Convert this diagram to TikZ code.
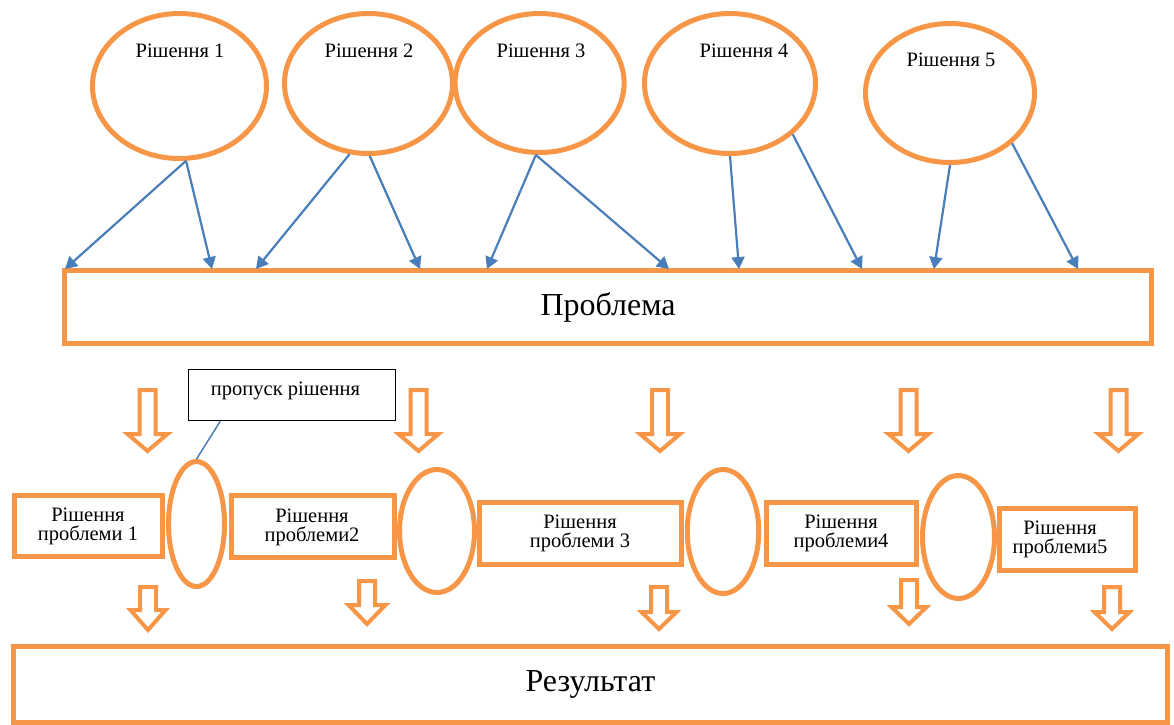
\documentclass[tikz,border=0pt]{standalone}
\usepackage{fontspec}
\setmainfont{Liberation Serif}
\usetikzlibrary{arrows.meta,shapes.geometric,calc}
\definecolor{org}{HTML}{F79646}
\definecolor{blu}{HTML}{4A7EBB}
\newcommand\hollowarrow[6]{\draw[blockarrow] ({#1-#5},#2) -- ({#1+#5},#2) -- ({#1+#5},#3) -- ({#1+#6},#3) -- (#1,#4) -- ({#1-#6},#3) -- ({#1-#5},#3) -- cycle;}
\begin{document}
\begin{tikzpicture}[x=1pt,y=-1pt,
 solution/.style={ellipse, draw=org, line width=5pt, inner sep=0pt},
 frame/.style={rectangle, draw=org, line width=5pt, inner sep=0pt},
 gap/.style={ellipse, draw=org, line width=5pt, fill=white, inner sep=0pt},
 link/.style={draw=blu, line width=2.2pt, -{Triangle[length=12pt,width=13pt]}},
 blockarrow/.style={draw=org, line width=4pt, fill=white},
 small/.style={font=\fontsize{20.5}{19}\selectfont, inner sep=0pt, text=black},
 boxtext/.style={small, align=center},
 large/.style={font=\fontsize{32}{36}\selectfont},
 note/.style={draw=black, line width=1.2pt, inner sep=0pt}]
\useasboundingbox (0,0) rectangle (1174,724);

% top solution ellipses
\node[solution, minimum width=174pt, minimum height=145pt] (e1) at (179.5,86) {};
\node[solution, minimum width=168pt, minimum height=140pt] (e2) at (368.5,83.5) {};
\node[solution, minimum width=169pt, minimum height=139pt] (e3) at (539.6,83) {};
\node[solution, minimum width=171pt, minimum height=140pt] (e4) at (730,83.5) {};
\node[solution, minimum width=169pt, minimum height=139pt] (e5) at (950,93) {};
\node[small, anchor=base] (l1) at (180,57) {Рішення 1};
\node[small, anchor=base] (l2) at (369,57) {Рішення 2};
\node[small, anchor=base] (l3) at (541,57) {Рішення 3};
\node[small, anchor=base] (l4) at (744,57) {Рішення 4};
\node[small, anchor=base] (l5) at (951,66) {Рішення 5};

% problem
\node[frame, large, minimum width=1087.5pt, minimum height=73pt] (prob) at (608,307) {Проблема};

\coordinate (a1) at (65,269);
\coordinate (a2) at (212,269);
\coordinate (a3) at (256,269);
\coordinate (a4) at (420,269);
\coordinate (a5) at (487,269);
\coordinate (a6) at (669,269);
\coordinate (a7) at (739,269);
\coordinate (a8) at (862,269);
\coordinate (a9) at (934,269);
\coordinate (a10) at (1078,269);

\draw[link] (e1.-85) -- (a1);
\draw[link] (e1.-85) -- (a2);
\draw[link] (e2.-105) -- (a3);
\draw[link] (e2.-89) -- (a4);
\draw[link] (e3.-93) -- (a5);
\draw[link] (e3.-93) -- (a6);
\draw[link] (e4.-90) -- (a7);
\draw[link] (e4.-39) -- (a8);
\draw[link] (e5.-90) -- (a9);
\draw[link] (e5.-39) -- (a10);

% upper block arrows
\hollowarrow{147.5}{390}{434}{451}{8}{20}
\hollowarrow{418.5}{390}{434}{451}{8}{20}
\hollowarrow{660}{390}{434}{451}{8}{20}
\hollowarrow{908.5}{390}{434}{451}{8}{20}
\hollowarrow{1118.5}{390}{434}{451}{8}{20}

% solution boxes
\node[frame, minimum width=148pt, minimum height=61pt] (b1) at (88.5,526) {};
\node[frame, minimum width=163pt, minimum height=62pt] (b2) at (313,526.5) {};
\node[frame, minimum width=202pt, minimum height=62pt] (b3) at (580.5,533.5) {};
\node[frame, minimum width=150pt, minimum height=62pt] (b4) at (841.5,533.5) {};
\node[frame, minimum width=136pt, minimum height=62pt] (b5) at (1067,539.2) {};
\node[boxtext] (t1) at (88,526) {Рішення\\проблеми 1};
\node[boxtext] (t2) at (312,527) {Рішення\\проблеми2};
\node[boxtext] (t3) at (580,533.5) {Рішення\\проблеми 3};
\node[boxtext] (t4) at (841,533.5) {Рішення\\проблеми4};
\node[boxtext] (t5) at (1060,539.5) {Рішення\\проблеми5};

% gap ellipses
\node[gap, minimum width=56pt, minimum height=125pt] (ea) at (196.5,524) {};
\node[gap, minimum width=75pt, minimum height=123pt] (eb) at (437,531) {};
\node[gap, minimum width=71.5pt, minimum height=124pt] (ec) at (723,531.5) {};
\node[gap, minimum width=72pt, minimum height=123pt] (ed) at (958.5,537) {};

% callout
\node[note, minimum width=207pt, minimum height=51pt] (cb) at (292,395) {};
\node[small, anchor=base] (ct) at (285.5,395) {пропуск рішення};
\draw[blu, line width=1.5pt] ($(cb.south west)!0.156!(cb.south east)$) -- (ea.north);

% lower block arrows
\hollowarrow{148}{587}{610}{630}{8}{17.5}
\hollowarrow{367}{581}{605}{624}{8}{18.5}
\hollowarrow{659}{587}{612}{629}{8}{17.5}
\hollowarrow{909}{580}{607}{624}{8}{17.5}
\hollowarrow{1112}{587}{612}{629}{8}{17.5}

% result
\node[frame, large, minimum width=1154pt, minimum height=75.6pt] (res) at (590.4,684.5) {Результат};
\end{tikzpicture}
\end{document}
